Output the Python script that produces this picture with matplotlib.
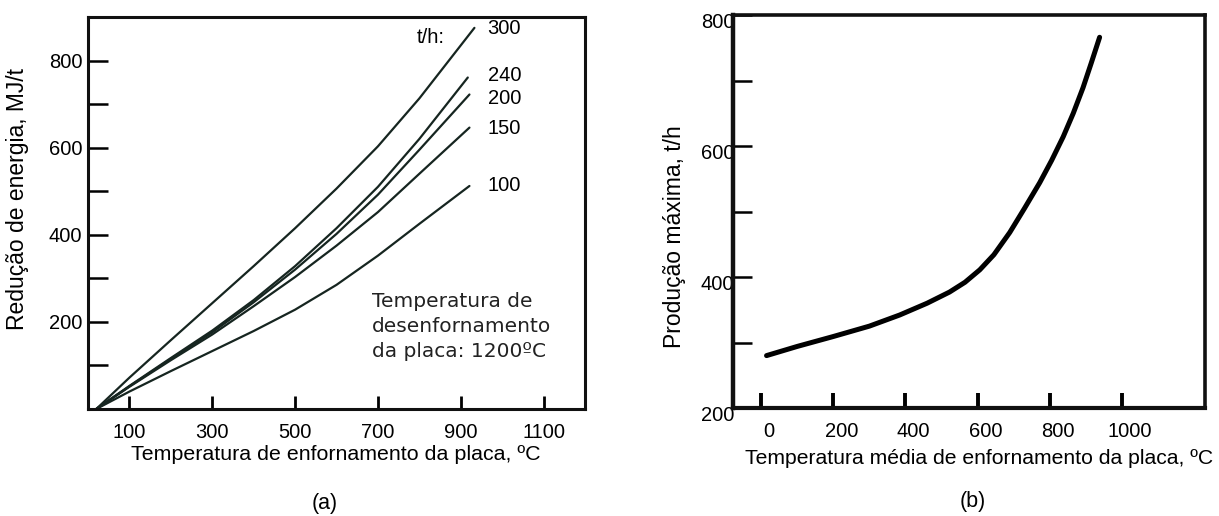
import matplotlib.pyplot as plt
import matplotlib.transforms as mtransforms
from matplotlib.ticker import MultipleLocator

plt.rcParams['font.family'] = ['Liberation Sans', 'DejaVu Sans']

# (a) energy reduction vs charging temperature, one curve per production rate (t/h)
temp_a = {
    "300": [20, 100, 200, 300, 400, 500, 600, 700, 800, 933],
    "240": [20, 100, 200, 300, 400, 500, 600, 700, 800, 917],
    "200": [20, 100, 200, 300, 400, 500, 600, 700, 800, 921],
    "150": [20, 100, 200, 300, 400, 500, 600, 700, 800, 921],
    "100": [20, 100, 200, 300, 400, 500, 600, 700, 800, 921],
}
energy_a = {
    "300": [0, 72, 158, 243, 328, 415, 506, 603, 713, 875],
    "240": [0, 53, 117, 180, 250, 328, 415, 510, 620, 761],
    "200": [0, 52, 115, 176, 245, 320, 402, 492, 595, 722],
    "150": [0, 51, 112, 171, 236, 303, 375, 452, 540, 646],
    "100": [0, 40, 87, 133, 179, 228, 285, 352, 425, 512],
}
label_y = {"300": 873, "240": 765, "200": 712, "150": 644, "100": 513}

# (b) max production vs mean charging temperature
temp_b = [15, 100, 199, 300, 384, 460, 522, 565, 606, 645, 689, 730, 772, 805, 837, 865, 892, 915, 938]
prod_b = [280, 294, 309, 325, 342, 360, 377, 392, 411, 434, 468, 505, 544, 578, 614, 650, 689, 727, 766]

fig = plt.figure(figsize=(12.19, 5.16), dpi=100)

# ---------------- panel (a)
ax1 = fig.add_axes([0.0722, 0.2074, 0.4077, 0.7597])
for key in temp_a:
    ax1.plot(temp_a[key], energy_a[key], color="#162520", lw=1.6, solid_capstyle="round")
    ax1.text(965, label_y[key], key, fontsize=14.5, ha="left", va="center")
ax1.text(861, 852, "t/h:", fontsize=14.5, ha="right", va="center")

ax1.set_xlim(0, 1200)
ax1.set_ylim(0, 900)
ax1.set_xticks([100, 300, 500, 700, 900, 1100])
ax1.yaxis.set_major_locator(MultipleLocator(200))
ax1.yaxis.set_minor_locator(MultipleLocator(100))
ax1.set_yticks([200, 400, 600, 800])
ax1.tick_params(axis="x", direction="in", length=9.5, width=2, labelsize=14.5, pad=10)
ax1.tick_params(axis="y", which="both", direction="in", length=14.5, width=1.8,
                labelsize=14.5, pad=4)
for s in ax1.spines.values():
    s.set_linewidth(2.2)
    s.set_color("#111111")
ax1.set_xlabel("Temperatura de enfornamento da placa, ºC", fontsize=15.4)
ax1.xaxis.set_label_coords(0.498, -0.093)
ax1.set_ylabel("Redução de energia, MJ/t", fontsize=16.5)
ax1.yaxis.set_label_coords(-0.118, 0.535)

ax1.text(685, 268, "Temperatura de\ndesenfornamento\nda placa: 1200ºC",
         family="DejaVu Sans", fontsize=14.5, ha="left", va="top", linespacing=1.38,
         color="#222222")

# ---------------- panel (b)
ax2 = fig.add_axes([0.6013, 0.2093, 0.3872, 0.7616])
ax2.plot(temp_b, prod_b, color="black", lw=3.6, solid_capstyle="round")
ax2.set_xlim(-78, 1230)
ax2.set_ylim(200, 800)
ax2.set_xticks([0, 200, 400, 600, 800, 1000])
ax2.set_yticks([200, 400, 600, 800])
ax2.yaxis.set_minor_locator(MultipleLocator(100))
ax2.tick_params(axis="x", direction="in", length=11, width=2.8, labelsize=14.5, pad=10)
ax2.tick_params(axis="y", which="both", direction="in", length=14, width=1.8,
                labelsize=14.5, pad=-1)
for s in ax2.spines.values():
    s.set_linewidth(2.6)
    s.set_color("#111111")
ax2.spines["left"].set_linewidth(3.2)
ax2.spines["bottom"].set_linewidth(3.0)

dx = mtransforms.ScaledTranslation(8 / 100, 0, fig.dpi_scale_trans)
for lab in ax2.get_xticklabels():
    lab.set_transform(lab.get_transform() + dx)
dy = mtransforms.ScaledTranslation(0, -5 / 100, fig.dpi_scale_trans)
for lab in ax2.get_yticklabels():
    lab.set_transform(lab.get_transform() + dy)

ax2.set_xlabel("Temperatura média de enfornamento da placa, ºC", fontsize=15.2)
ax2.xaxis.set_label_coords(0.522, -0.105)
ax2.set_ylabel("Produção máxima, t/h", fontsize=16.5)
ax2.yaxis.set_label_coords(-0.1, 0.435)

fig.text(325 / 1219, 1 - 503 / 516, "(a)", fontsize=15.5, ha="center", va="center")
fig.text(973 / 1219, 1 - 502 / 516, "(b)", fontsize=15.5, ha="center", va="center")

fig.savefig("out.png", dpi=100)
